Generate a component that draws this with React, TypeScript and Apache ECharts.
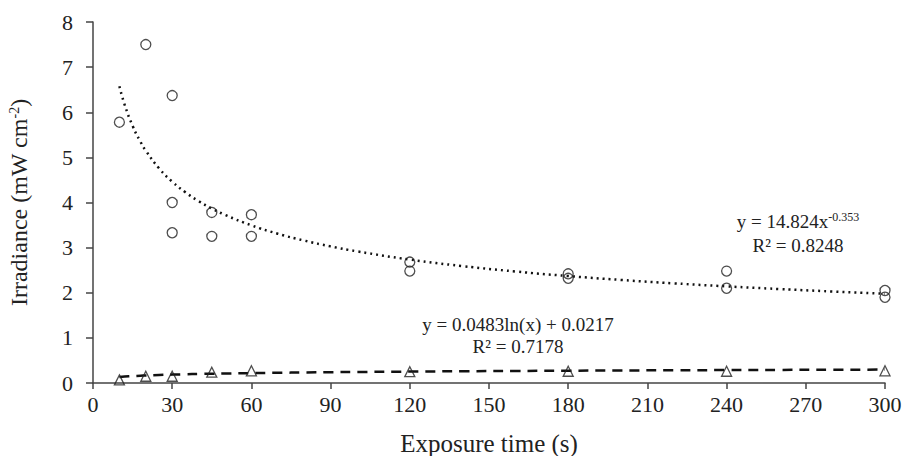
import React, { useEffect, useRef } from "react";
import * as echarts from "echarts";

// Measured irradiance (circles) — exposure time (s) and value (mW cm-2)
const circleTimes = [10, 20, 30, 30, 30, 45, 45, 60, 60, 120, 120, 180, 180, 240, 240, 300, 300];
const circleValues = [5.78, 7.5, 6.37, 4.0, 3.33, 3.78, 3.25, 3.73, 3.25, 2.68, 2.48, 2.42, 2.32, 2.48, 2.1, 2.05, 1.9];

// Triangles
const triTimes = [10, 20, 30, 45, 60, 120, 180, 240, 300];
const triValues = [0.07, 0.15, 0.15, 0.24, 0.27, 0.25, 0.26, 0.26, 0.27];

// Trend line equations as printed on the chart
const powerA = 14.824;
const powerB = -0.353;
const logA = 0.0483;
const logB = 0.0217;
const trendTimes = [10, 12, 15, 18, 20, 25, 30, 35, 40, 45, 50, 60, 70, 80, 90, 100, 120, 140, 160, 180, 200, 220, 240, 260, 280, 300];

const xTicks = [0, 30, 60, 90, 120, 150, 180, 210, 240, 270, 300];
const yTicks = [0, 1, 2, 3, 4, 5, 6, 7, 8];

const FONT = "'Liberation Serif', 'Times New Roman', serif";

export default function App() {
  const ref = useRef<HTMLDivElement>(null);
  useEffect(() => {
    if (!ref.current) return;
    const chart = echarts.init(ref.current, null, { renderer: "svg" });
    const powerLine = trendTimes.map((t) => [t, powerA * Math.pow(t, powerB)]);
    const logLine = trendTimes.map((t) => [t, logA * Math.log(t) + logB]);
    chart.setOption({
      animation: false,
      backgroundColor: "#ffffff",
      textStyle: { fontFamily: FONT },
      grid: { left: 93, right: 19, top: 22, bottom: 73, containLabel: false, outerBoundsMode: "none" },
      xAxis: {
        type: "value",
        min: xTicks[0],
        max: xTicks[xTicks.length - 1],
        interval: 30,
        name: "Exposure time (s)",
        nameLocation: "middle",
        nameGap: 48,
        nameTextStyle: { fontSize: 25, color: "#222", fontFamily: FONT },
        axisLine: { lineStyle: { color: "#444", width: 1.5 } },
        axisTick: { show: true, inside: false, length: 6, lineStyle: { color: "#444", width: 1.5 } },
        axisLabel: { fontSize: 22, color: "#222", margin: 10, fontFamily: FONT },
        splitLine: { show: false },
      },
      yAxis: {
        type: "value",
        min: yTicks[0],
        max: yTicks[yTicks.length - 1],
        interval: 1,
        name: "{a|Irradiance (mW cm}{s|-2}{a|)}",
        nameLocation: "middle",
        nameGap: 62,
        nameRotate: 90,
        nameTextStyle: {
          color: "#222",
          fontFamily: FONT,
          rich: {
            a: { fontSize: 24, color: "#222", fontFamily: FONT },
            s: { fontSize: 14, color: "#222", fontFamily: FONT, verticalAlign: "top", padding: [0, 0, 10, 0] },
          },
        },
        axisLine: { show: true, lineStyle: { color: "#444", width: 1.5 } },
        axisTick: { show: true, inside: false, length: 7, lineStyle: { color: "#444", width: 1.5 } },
        axisLabel: { fontSize: 22, color: "#222", margin: 20, fontFamily: FONT },
        splitLine: { show: false },
      },
      graphic: [
        {
          type: "text",
          x: 798,
          y: 221,
          style: {
            text: "{a|y = 14.824x}{s|-0.353}",
            align: "center",
            verticalAlign: "middle",
            rich: {
              a: { fontSize: 19, fill: "#222", fontFamily: FONT },
              s: { fontSize: 12, fill: "#222", fontFamily: FONT, verticalAlign: "top", padding: [0, 0, 8, 0] },
            },
          },
        },
        {
          type: "text",
          x: 798,
          y: 245,
          style: { text: "R² = 0.8248", align: "center", verticalAlign: "middle", fontSize: 19, fill: "#222", fontFamily: FONT },
        },
        {
          type: "text",
          x: 518,
          y: 324,
          style: { text: "y = 0.0483ln(x) + 0.0217", align: "center", verticalAlign: "middle", fontSize: 19, fill: "#222", fontFamily: FONT },
        },
        {
          type: "text",
          x: 518,
          y: 346,
          style: { text: "R² = 0.7178", align: "center", verticalAlign: "middle", fontSize: 19, fill: "#222", fontFamily: FONT },
        },
      ],
      series: [
        {
          type: "line",
          data: powerLine,
          showSymbol: false,
          smooth: true,
          lineStyle: { color: "#111", width: 2.5, type: [2, 4] },
          z: 1,
        },
        {
          type: "line",
          data: logLine,
          showSymbol: false,
          smooth: true,
          lineStyle: { color: "#111", width: 2.5, type: [10, 7] },
          z: 1,
        },
        {
          type: "scatter",
          data: circleTimes.map((t, i) => [t, circleValues[i]]),
          symbol: "circle",
          symbolSize: 10,
          itemStyle: { color: "rgba(255,255,255,0)", borderColor: "#222", borderWidth: 1.3 },
          z: 3,
        },
        {
          type: "scatter",
          data: triTimes.map((t, i) => [t, triValues[i]]),
          symbol: "triangle",
          symbolSize: 10,
          itemStyle: { color: "rgba(255,255,255,0)", borderColor: "#222", borderWidth: 1.3 },
          z: 3,
        },
      ],
    });
    return () => chart.dispose();
  }, []);
  return <div ref={ref} style={{ width: 904, height: 456, position: "absolute", left: 0, top: 0 }} />;
}
